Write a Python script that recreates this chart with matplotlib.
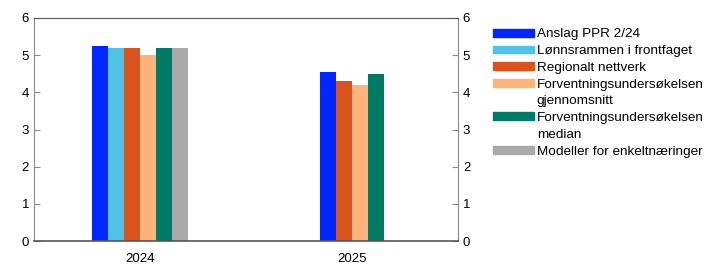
import numpy as np
import matplotlib.pyplot as plt
from matplotlib.patches import Patch

years = ["2024", "2025"]
series = ["Anslag PPR 2/24", "Lønnsrammen i frontfaget", "Regionalt nettverk",
          "Forventningsundersøkelsen\ngjennomsnitt",
          "Forventningsundersøkelsen\nmedian", "Modeller for enkeltnæringer"]
values = [
    [5.25, 4.55],
    [5.2, np.nan],
    [5.2, 4.3],
    [5.0, 4.2],
    [5.2, 4.5],
    [5.2, np.nan],
]
colors = ["#0027ff", "#4fc3e6", "#d9531e", "#ffb27a", "#007a64", "#aaaaaa"]

plt.rcParams['font.family'] = ['Liberation Sans', 'DejaVu Sans']
fig = plt.figure(figsize=(7.22, 2.72), dpi=100)
ax = fig.add_axes([34 / 722, 31 / 272, 424 / 722, 223 / 272])

w = 0.0755
for j in range(len(years)):
    present = [i for i in range(len(series)) if not np.isnan(values[i][j])]
    n = len(present)
    for k, i in enumerate(present):
        ax.bar(j + (k - (n - 1) / 2) * w, values[i][j], width=w, color=colors[i])

ax.set_xlim(-0.5, 1.5)
ax.set_ylim(0, 6)
ax.set_xticks(range(len(years)))
ax.set_xticklabels(years)
ax.set_yticks(range(7))
ax.tick_params(axis='y', direction='in', length=4, labelsize=9.5, colors='#888888',
               labelcolor='black', right=True, labelright=True)
ax.tick_params(axis='x', length=0, labelsize=9.5, pad=9)
for s in ['left', 'right']:
    ax.spines[s].set_color('#888888')
ax.spines['bottom'].set_color('#555555')
ax.spines['bottom'].set_linewidth(1.2)
ax.spines['top'].set_color('#555555')

# legend: one row per text line, handle only on the first line
handles, labels = [], []
for c, s in zip(colors, series):
    for k, line in enumerate(s.split("\n")):
        handles.append(Patch(color=c) if k == 0 else Patch(alpha=0))
        labels.append(line)
fig.legend(handles, labels, loc='upper left', bbox_to_anchor=(493 / 722, 1 - 28.5 / 272),
           frameon=False, fontsize=9.7, handlelength=3.05, handleheight=0.5,
           handletextpad=0.2, labelspacing=0.35, borderaxespad=0, borderpad=0)

fig.savefig("out.png", dpi=100)
